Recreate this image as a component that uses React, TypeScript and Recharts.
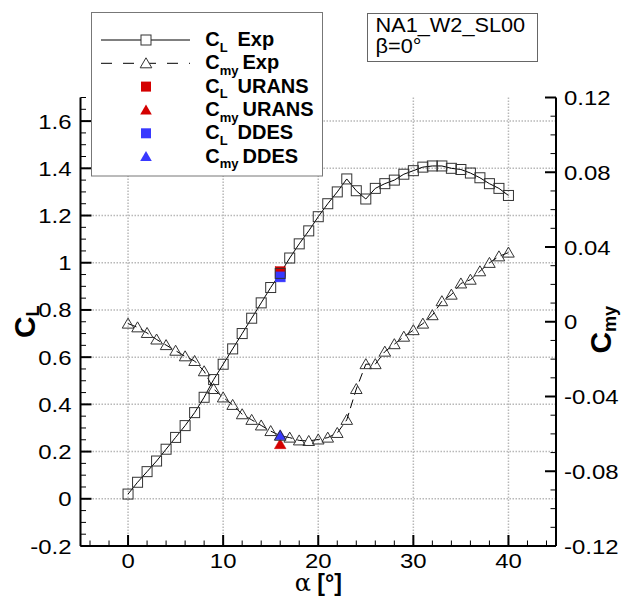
import React from 'react';
import { ComposedChart, Line, Scatter, XAxis, YAxis, ReferenceLine, Legend, Label } from 'recharts';

// ---------- data ----------
const alpha = [0, 1, 2, 3, 4, 5, 6, 7, 8, 9, 10, 11, 12, 13, 14, 15, 16, 17, 18, 19, 20, 21, 22, 23, 24, 25, 26, 27, 28, 29, 30, 31, 32, 33, 34, 35, 36, 37, 38, 39, 40];
const clExp = [0.02, 0.07, 0.115, 0.16, 0.21, 0.26, 0.31, 0.365, 0.43, 0.505, 0.57, 0.635, 0.7, 0.765, 0.83, 0.895, 0.955, 1.02, 1.08, 1.135, 1.195, 1.25, 1.3, 1.355, 1.305, 1.27, 1.315, 1.335, 1.35, 1.375, 1.39, 1.405, 1.41, 1.41, 1.4, 1.395, 1.38, 1.36, 1.335, 1.315, 1.285];
const cmyExp = [-0.001, -0.003, -0.006, -0.0095, -0.0125, -0.0155, -0.0185, -0.021, -0.0265, -0.036, -0.0405, -0.0445, -0.0495, -0.0525, -0.0555, -0.0585, -0.061, -0.062, -0.0635, -0.0638, -0.063, -0.062, -0.0595, -0.0525, -0.036, -0.0227, -0.0227, -0.016, -0.012, -0.008, -0.0045, -0.001, 0.0035, 0.011, 0.0145, 0.0205, 0.0225, 0.027, 0.0315, 0.035, 0.037];

const uransAlpha = [16];
const clUrans = [0.962];
const cmyUrans = [-0.0655];
const ddesAlpha = [16];
const clDdes = [0.94];
const cmyDdes = [-0.0607];

const xMajorTicks = [0, 10, 20, 30, 40];
const xMinorTicks = [-4, -2, 2, 4, 6, 8, 12, 14, 16, 18, 22, 24, 26, 28, 32, 34, 36, 38, 42, 44];
const leftMajorTicks = [-0.2, 0, 0.2, 0.4, 0.6, 0.8, 1, 1.2, 1.4, 1.6];
const leftMinorTicks = [-0.15, -0.1, -0.05, 0.05, 0.1, 0.15, 0.25, 0.3, 0.35, 0.45, 0.5, 0.55, 0.65, 0.7, 0.75, 0.85, 0.9, 0.95, 1.05, 1.1, 1.15, 1.25, 1.3, 1.35, 1.45, 1.5, 1.55, 1.65, 1.7];
const rightMajorTicks = [-0.12, -0.08, -0.04, 0, 0.04, 0.08, 0.12];
const rightMinorTicks = [-0.11, -0.1, -0.09, -0.07, -0.06, -0.05, -0.03, -0.02, -0.01, 0.01, 0.02, 0.03, 0.05, 0.06, 0.07, 0.09, 0.1, 0.11];
const gridX = [0, 10, 20, 30, 40];
const gridY = [0, 0.2, 0.4, 0.6, 0.8, 1, 1.2, 1.4, 1.6];

const legendLabels = [
  { main: 'C', sub: 'L', word: 'Exp' },
  { main: 'C', sub: 'my', word: 'Exp' },
  { main: 'C', sub: 'L', word: 'URANS' },
  { main: 'C', sub: 'my', word: 'URANS' },
  { main: 'C', sub: 'L', word: 'DDES' },
  { main: 'C', sub: 'my', word: 'DDES' },
];
const infoLines = ['NA1_W2_SL00', 'β=0°'];

// ---------- derived tables ----------
const expData = alpha.map((a, i) => ({ alpha: a, cl: clExp[i], cmy: cmyExp[i] }));
const uransClData = uransAlpha.map((a, i) => ({ alpha: a, cl: clUrans[i] }));
const uransCmyData = uransAlpha.map((a, i) => ({ alpha: a, cmy: cmyUrans[i] }));
const ddesClData = ddesAlpha.map((a, i) => ({ alpha: a, cl: clDdes[i] }));
const ddesCmyData = ddesAlpha.map((a, i) => ({ alpha: a, cmy: cmyDdes[i] }));

const num = (a: number, b: number) => a - b;
const xTicks = [...xMajorTicks, ...xMinorTicks].sort(num);
const leftTicks = [...leftMajorTicks, ...leftMinorTicks].sort(num);
const rightTicks = [...rightMajorTicks, ...rightMinorTicks].sort(num);

const FONT = '"Liberation Sans", Arial, Helvetica, sans-serif';
const RED = '#d40000';
const BLUE = '#3838ff';
const MARK = '#333333';
const SX = 1.14;

const isIn = (v: number, arr: number[]) => arr.some((t) => Math.abs(t - v) < 1e-9);

// ---------- ticks ----------
const XTick = (props: any) => {
  const { x, y, payload } = props;
  const major = isIn(payload.value, xMajorTicks);
  return (
    <g>
      <line x1={x} x2={x} y1={y} y2={y - (major ? 11 : 5.5)} stroke="#000" strokeWidth={major ? 2 : 1} />
      {major && (
        <text transform={`translate(${x},${y + 22}) scale(${SX},1)`} textAnchor="middle" fontSize={21} fontFamily={FONT} fill="#000">
          {String(payload.value)}
        </text>
      )}
    </g>
  );
};

const LeftTick = (props: any) => {
  const { x, y, payload } = props;
  const major = isIn(payload.value, leftMajorTicks);
  return (
    <g>
      <line x1={x} x2={x + (major ? 11 : 5.5)} y1={y} y2={y} stroke="#000" strokeWidth={major ? 2 : 1} />
      {major && (
        <text transform={`translate(${x - 9},${y + 7.5}) scale(${SX},1)`} textAnchor="end" fontSize={21} fontFamily={FONT} fill="#000">
          {String(payload.value)}
        </text>
      )}
    </g>
  );
};

const RightTick = (props: any) => {
  const { x, y, payload } = props;
  const major = isIn(payload.value, rightMajorTicks);
  return (
    <g>
      <line x1={x} x2={x - (major ? 11 : 5.5)} y1={y} y2={y} stroke="#000" strokeWidth={major ? 2 : 1} />
      {major && (
        <text transform={`translate(${x + 8},${y + 7.5}) scale(${SX},1)`} textAnchor="start" fontSize={21} fontFamily={FONT} fill="#000">
          {String(payload.value)}
        </text>
      )}
    </g>
  );
};

// ---------- axis labels ----------
const CLLabel = (props: any) => {
  const vb = props.viewBox || {};
  const cx = vb.x - 45;
  const cy = vb.y + vb.height / 2;
  return (
    <text transform={`translate(${cx},${cy}) rotate(-90)`} textAnchor="middle" fontFamily={FONT} fontWeight="bold" fontSize={30} fill="#000">
      C<tspan fontSize={18} dy={4}>L</tspan>
    </text>
  );
};

const CmyLabel = (props: any) => {
  const vb = props.viewBox || {};
  const cx = vb.x + vb.width + 54;
  const cy = vb.y + vb.height / 2 + 8;
  return (
    <text transform={`translate(${cx},${cy}) rotate(-90)`} textAnchor="middle" fontFamily={FONT} fontWeight="bold" fontSize={30} fill="#000">
      C<tspan fontSize={18} dy={5}>my</tspan>
    </text>
  );
};

const XLabel = (props: any) => {
  const vb = props.viewBox || {};
  const cx = vb.x + vb.width / 2;
  const cy = vb.y + 45;
  return (
    <text x={cx} y={cy} textAnchor="middle" fontFamily={FONT} fontWeight="bold" fontSize={23} fill="#000">
      <tspan fontFamily='"DejaVu Serif", serif' fontWeight="normal" fontSize={24}>α</tspan>
      <tspan> [°]</tspan>
    </text>
  );
};

// ---------- markers ----------
const squarePath = (cx: number, cy: number, s: number) => ({ x: cx - s / 2, y: cy - s / 2, width: s, height: s });
const triPoints = (cx: number, cy: number) => `${cx},${cy - 5.5} ${cx - 5.8},${cy + 4.5} ${cx + 5.8},${cy + 4.5}`;

const SquareDot = (props: any) => {
  const { cx, cy, index } = props;
  if (cx == null || cy == null) return <g key={`s${index}`} />;
  return <rect key={`s${index}`} {...squarePath(cx, cy, 10)} fill="none" stroke={MARK} strokeWidth={1} />;
};
const TriDot = (props: any) => {
  const { cx, cy, index } = props;
  if (cx == null || cy == null) return <g key={`t${index}`} />;
  return <polygon key={`t${index}`} points={triPoints(cx, cy)} fill="none" stroke={MARK} strokeWidth={1} />;
};
const makeFilledSquare = (color: string) => (props: any) => {
  const { cx, cy } = props;
  return <rect {...squarePath(cx, cy, 10)} fill={color} stroke={color} strokeWidth={0.5} />;
};
const makeFilledTri = (color: string) => (props: any) => {
  const { cx, cy } = props;
  return <polygon points={triPoints(cx, cy)} fill={color} stroke={color} strokeWidth={0.5} />;
};

// ---------- legend ----------
const LegendContent = () => {
  const rowBase = [34, 57.3, 80.6, 104, 127.3, 150.6];
  const mx = 55;
  return (
    <svg width={233} height={166} style={{ display: 'block' }}>
      <rect x={0.5} y={0.5} width={231} height={163.5} fill="#fff" stroke="#777" strokeWidth={1} />
      {legendLabels.map((l, i) => {
        const b = rowBase[i];
        const my = b - 6;
        let sample: React.ReactNode = null;
        if (i === 0) {
          sample = (
            <g>
              <line x1={10} x2={99} y1={my} y2={my} stroke="#000" strokeWidth={1} />
              <rect {...squarePath(mx, my, 10)} fill="#fff" stroke={MARK} strokeWidth={1} />
            </g>
          );
        } else if (i === 1) {
          sample = (
            <g>
              <line x1={10} x2={99} y1={my} y2={my} stroke="#000" strokeWidth={1} strokeDasharray="11 11" />
              <polygon points={triPoints(mx, my)} fill="#fff" stroke={MARK} strokeWidth={1} />
            </g>
          );
        } else if (i === 2) {
          sample = <rect {...squarePath(mx, my, 10)} fill={RED} />;
        } else if (i === 3) {
          sample = <polygon points={triPoints(mx, my)} fill={RED} />;
        } else if (i === 4) {
          sample = <rect {...squarePath(mx, my, 10)} fill={BLUE} />;
        } else {
          sample = <polygon points={triPoints(mx, my)} fill={BLUE} />;
        }
        const wordX = l.sub === 'L' ? 146.5 : 151.5;
        return (
          <g key={i}>
            {sample}
            <text x={114.3} y={b} fontFamily={FONT} fontWeight="bold" fontSize={20} fill="#000">
              {l.main}
              <tspan fontSize={13} dy={5.5}>{l.sub}</tspan>
              <tspan x={wordX} dy={-5.5}>{l.word}</tspan>
            </text>
          </g>
        );
      })}
    </svg>
  );
};

export default function App() {
  return (
    <div style={{ position: 'absolute', left: 0, top: 0, width: 621, height: 596, background: '#fff' }}>
      <ComposedChart width={621} height={596} data={expData} margin={{ top: 97.5, right: 64, bottom: 49, left: 79.5 }}>
        <XAxis
          type="number"
          dataKey="alpha"
          domain={[-5, 45]}
          ticks={xTicks}
          interval={0}
          tickSize={0}
          tickMargin={0}
          tickLine={false}
          tick={XTick}
          height={1}
          axisLine={{ stroke: '#000', strokeWidth: 2 }}
          allowDataOverflow
        >
          <Label content={XLabel} />
        </XAxis>
        <YAxis
          yAxisId="left"
          type="number"
          domain={[-0.2, 1.7]}
          ticks={leftTicks}
          interval={0}
          tickSize={0}
          tickMargin={0}
          tickLine={false}
          tick={LeftTick}
          width={1}
          axisLine={{ stroke: '#000', strokeWidth: 2 }}
          allowDataOverflow
        >
          <Label content={CLLabel} />
        </YAxis>
        <YAxis
          yAxisId="right"
          orientation="right"
          type="number"
          domain={[-0.12, 0.12]}
          ticks={rightTicks}
          interval={0}
          tickSize={0}
          tickMargin={0}
          tickLine={false}
          tick={RightTick}
          width={1}
          axisLine={{ stroke: '#000', strokeWidth: 2 }}
          allowDataOverflow
        >
          <Label content={CmyLabel} />
        </YAxis>

        {gridX.map((v) => (
          <ReferenceLine key={`gx${v}`} yAxisId="left" x={v} stroke="#b8b8b8" strokeWidth={1.5} strokeDasharray="1.5 1.5" />
        ))}
        {gridY.map((v) => (
          <ReferenceLine key={`gy${v}`} yAxisId="left" y={v} stroke="#b8b8b8" strokeWidth={1.5} strokeDasharray="1.5 1.5" />
        ))}

        <Line
          yAxisId="left"
          type="linear"
          dataKey="cl"
          name="CL Exp"
          stroke="#000"
          strokeWidth={1}
          dot={SquareDot}
          activeDot={false}
          isAnimationActive={false}
        />
        <Line
          yAxisId="right"
          type="linear"
          dataKey="cmy"
          name="Cmy Exp"
          stroke="#000"
          strokeWidth={1}
          strokeDasharray="9 5"
          dot={TriDot}
          activeDot={false}
          isAnimationActive={false}
        />
        <Scatter yAxisId="left" data={uransClData} dataKey="cl" name="CL URANS" shape={makeFilledSquare(RED)} isAnimationActive={false} />
        <Scatter yAxisId="right" data={uransCmyData} dataKey="cmy" name="Cmy URANS" shape={makeFilledTri(RED)} isAnimationActive={false} />
        <Scatter yAxisId="left" data={ddesClData} dataKey="cl" name="CL DDES" shape={makeFilledSquare(BLUE)} isAnimationActive={false} />
        <Scatter yAxisId="right" data={ddesCmyData} dataKey="cmy" name="Cmy DDES" shape={makeFilledTri(BLUE)} isAnimationActive={false} />

        <Legend
          layout="vertical"
          align="center"
          verticalAlign="middle"
          content={LegendContent}
          wrapperStyle={{ position: 'absolute', left: 91, top: 12, width: 233, height: 166, lineHeight: 0 }}
        />
      </ComposedChart>
      <svg
        width={172}
        height={50}
        style={{ position: 'absolute', left: 366.5, top: 12.5, display: 'block' }}
      >
        <rect x={0.5} y={0.5} width={170} height={48} fill="#fff" stroke="#666" strokeWidth={1} />
        {infoLines.map((t, i) => (
          <text key={i} transform={`translate(8.5,${19 + i * 21}) scale(1.06,1)`} fontFamily={FONT} fontSize={20.5} fill="#000">
            {t}
          </text>
        ))}
      </svg>
    </div>
  );
}
